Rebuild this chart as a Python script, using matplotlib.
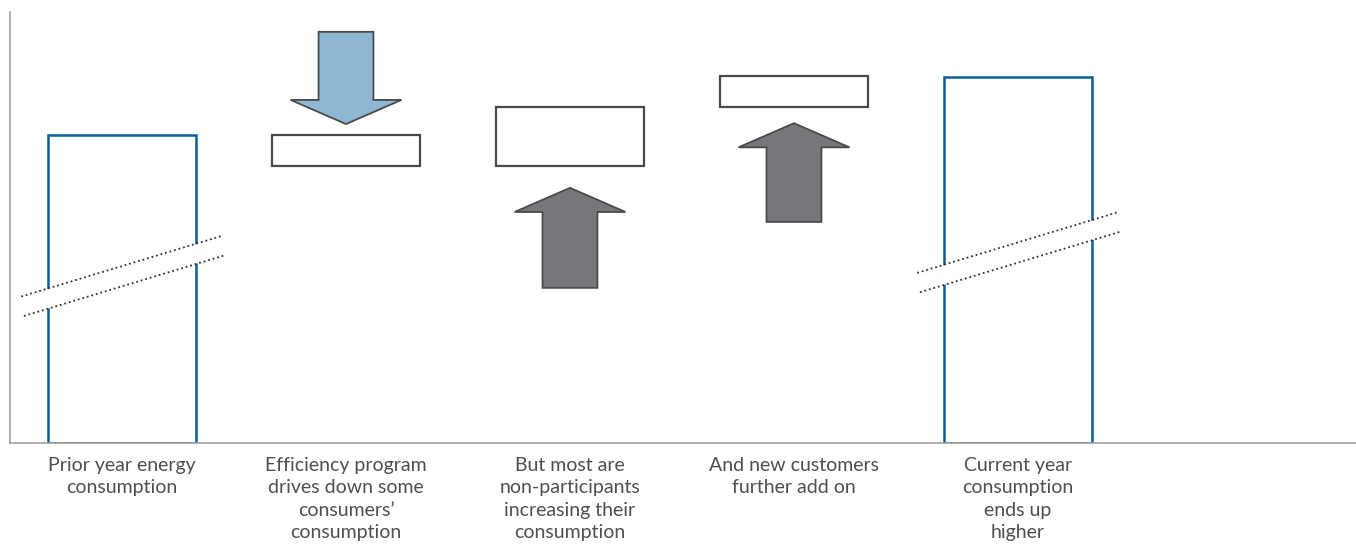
import numpy as np
import matplotlib.pyplot as plt

plt.rcParams['font.family'] = ['Lato', 'DejaVu Sans']

# steps of the consumption walk
labels = ['Prior year energy\nconsumption',
          'Efficiency program\ndrives down some\nconsumers\u2019\nconsumption',
          'But most are\nnon-participants\nincreasing their\nconsumption',
          'And new customers\nfurther add on',
          'Current year\nconsumption\nends up\nhigher']
bar_bottom = [0, 64.3, 64.3, 78.0, 0]
bar_top = [71.5, 71.5, 78.0, 85.2, 85.0]
is_total = [True, False, False, False, True]

# arrows showing the direction of each step
arrow_x = [1, 2, 3]
arrow_start = [95.4, 36.0, 51.3]
arrow_end = [74.0, 59.2, 74.2]
arrow_fill = ['#8fb6d2', '#76777b', '#76777b']

# axis-break marks on the total bars
break_x = [0, 4]
break_mid = [38.7, 44.2]
break_gap = 4.7
break_slope = 15.7

x = np.arange(len(labels))
heights = np.array(bar_top) - np.array(bar_bottom)

fig = plt.figure(figsize=(13.56, 5.44), dpi=100)
ax = fig.add_axes([10 / 1356, 101 / 544, 1346 / 1356, 431 / 544])

edge = ['#0b5f9c' if t else '#4a4a4a' for t in is_total]
lw = [1.8 if t else 1.6 for t in is_total]
ax.bar(x, heights, bottom=bar_bottom, width=0.665, facecolor='white',
       edgecolor=edge, linewidth=lw, zorder=2)

for xa, y0, y1, fc in zip(arrow_x, arrow_start, arrow_end, arrow_fill):
    ax.arrow(xa, y0, 0, y1 - y0, width=0.245, head_width=0.495, head_length=5.6,
             length_includes_head=True, facecolor=fc, edgecolor='#4a4a4a',
             linewidth=1.3, joinstyle='miter', zorder=3)

# break marks: white gap then two dotted lines
for bx, bm in zip(break_x, break_mid):
    xs = np.linspace(-0.45, 0.45, 2)
    upper = bm + break_gap / 2 + break_slope * xs
    lower = bm - break_gap / 2 + break_slope * (xs + 0.012)
    ax.fill_between(bx + xs, lower, upper, color='white', lw=0, zorder=4)
    ax.plot(bx + xs, upper, color='#333333', lw=1.3, ls=(0, (1, 1.6)), zorder=5)
    ax.plot(bx + xs + 0.012, lower, color='#333333', lw=1.3, ls=(0, (1, 1.6)), zorder=5)

ax.set_xlim(-0.5, 5.509)
ax.set_ylim(0, 100)
ax.spines['top'].set_visible(False)
ax.spines['right'].set_visible(False)
for s in ['left', 'bottom']:
    ax.spines[s].set_color('#9a9a9a')
    ax.spines[s].set_linewidth(1.1)
ax.set_yticks([])
ax.set_xticks(x, labels)
ax.tick_params(axis='x', length=0, pad=10, labelsize=14, labelcolor='#4f4f4f')
for t in ax.get_xticklabels():
    t.set_linespacing(1.38)

fig.savefig('out.png', dpi=100)
